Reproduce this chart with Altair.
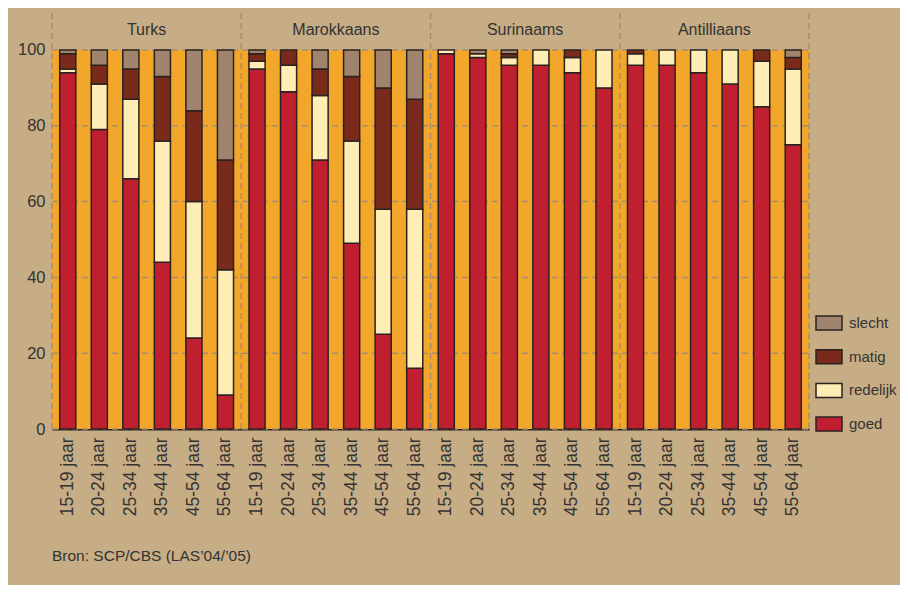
import altair as alt
import pandas as pd

groups = ["Turks", "Marokkaans", "Surinaams", "Antilliaans"]
ages = ["15-19 jaar", "20-24 jaar", "25-34 jaar", "35-44 jaar", "45-54 jaar", "55-64 jaar"]
categories = ["goed", "redelijk", "matig", "slecht"]
legend_order = ["slecht", "matig", "redelijk", "goed"]

goed = [94, 79, 66, 44, 24, 9,
        95, 89, 71, 49, 25, 16,
        99, 98, 96, 96, 94, 90,
        96, 96, 94, 91, 85, 75]
redelijk = [1, 12, 21, 32, 36, 33,
            2, 7, 17, 27, 33, 42,
            1, 1, 2, 4, 4, 10,
            3, 4, 6, 9, 12, 20]
matig = [4, 5, 8, 17, 24, 29,
         2, 4, 7, 17, 32, 29,
         0, 0, 1, 0, 2, 0,
         1, 0, 0, 0, 3, 3]
slecht = [1, 4, 5, 7, 16, 29,
          1, 0, 5, 7, 10, 13,
          0, 1, 1, 0, 0, 0,
          0, 0, 0, 0, 0, 2]

y_ticks = [0, 20, 40, 60, 80, 100]
source = "Bron: SCP/CBS (LAS\u201904/\u201905)"

colors = {"slecht": "#A0846E", "matig": "#7A2A1B", "redelijk": "#FFEDB6", "goed": "#C01F30"}
BG = "#C7AD85"
ORANGE = "#F2A72B"
DASH = "#A88D70"
FONT = "Liberation Sans"

YMAX = 110.55
n = len(groups) * len(ages)

keys = [f"{g}|{a}" for g in groups for a in ages]
rows = []
series = {"goed": goed, "redelijk": redelijk, "matig": matig, "slecht": slecht}
for i, k in enumerate(keys):
    for ci, c in enumerate(categories):
        v = series[c][i]
        if v > 0:
            rows.append({"key": k, "cat": c, "order": ci, "value": v})
bars_df = pd.DataFrame(rows)

yscale = alt.Scale(domain=[0, YMAX], nice=False, zero=False)
yaxis = alt.Axis(values=y_ticks, grid=False, domain=False, ticks=False, title=None,
                 labelFont=FONT, labelFontSize=16.5, labelColor="#333333", labelPadding=7)
xq = alt.Scale(domain=[-0.5, n - 0.5], nice=False, zero=False)

bg_df = pd.DataFrame({"x0": [-0.5], "x1": [n - 0.5], "y0": [0], "y1": [100]})
bg = alt.Chart(bg_df).mark_rect(color=ORANGE).encode(
    x=alt.X("x0:Q", scale=xq, axis=None),
    x2="x1:Q",
    y=alt.Y("y0:Q", scale=yscale, axis=yaxis),
    y2="y1:Q",
)

grid_df = pd.DataFrame({"yv": y_ticks, "x0": -0.5, "x1": n - 0.5})
grid = alt.Chart(grid_df).mark_rule(color=DASH, strokeDash=[6, 4], strokeWidth=1.5).encode(
    x=alt.X("x0:Q", scale=xq, axis=None),
    x2="x1:Q",
    y=alt.Y("yv:Q", scale=yscale, axis=yaxis),
)

sep_df = pd.DataFrame({"xs": [-0.5 + 6 * j for j in range(len(groups) + 1)], "y0": 0, "y1": YMAX})
seps = alt.Chart(sep_df).mark_rule(color=DASH, strokeDash=[6, 4], strokeWidth=1.5).encode(
    x=alt.X("xs:Q", scale=xq, axis=None),
    y=alt.Y("y0:Q", scale=yscale, axis=yaxis),
    y2="y1:Q",
)

lab_df = pd.DataFrame({"g": groups, "xc": [2.5 + 6 * j for j in range(len(groups))], "yc": 105.3})
labels = alt.Chart(lab_df).mark_text(font=FONT, fontSize=16, color="#333333", baseline="middle").encode(
    x=alt.X("xc:Q", scale=xq, axis=None),
    y=alt.Y("yc:Q", scale=yscale, axis=yaxis),
    text="g:N",
)

bars = alt.Chart(bars_df).mark_bar(stroke="#2B2220", strokeWidth=1.5).encode(
    x=alt.X("key:N", sort=keys,
            scale=alt.Scale(paddingInner=0.49, paddingOuter=0.245),
            axis=alt.Axis(title=None, labelAngle=-90, labelAlign="right", labelBaseline="middle",
                          labelExpr="split(datum.label, '|')[1]", labelFont=FONT, labelFontSize=17.5,
                          labelColor="#333333", labelPadding=8, ticks=False,
                          domainColor="#2B2220", domainWidth=2)),
    y=alt.Y("value:Q", stack="zero", scale=yscale, axis=yaxis),
    color=alt.Color("cat:N", scale=alt.Scale(domain=legend_order, range=[colors[c] for c in legend_order]),
                    legend=alt.Legend(title=None, orient="none", legendX=763, legendY=299,
                                      symbolType="M-1,-0.54H1V0.54H-1Z", symbolSize=676,
                                      symbolStrokeColor="#2B2220", symbolStrokeWidth=1.5,
                                      labelFont=FONT, labelFontSize=15, labelColor="#333333",
                                      rowPadding=8.7, labelOffset=6, padding=0)),
    order=alt.Order("order:Q", sort="ascending"),
)

chart = alt.layer(bg, grid, seps, labels, bars).resolve_scale(x="independent").properties(
    width=757, height=419,
    background=BG,
    padding={"left": 44, "top": 2, "right": 91, "bottom": 156},
    autosize=alt.AutoSizeParams(type="none"),
    title=alt.TitleParams(source, orient="bottom", anchor="start", frame="group",
                          font=FONT, fontSize=15.5, fontWeight="normal", color="#333333", offset=33),
).configure_view(stroke=None)

chart.save("out.html", embed_options={"renderer": "svg", "actions": False})
